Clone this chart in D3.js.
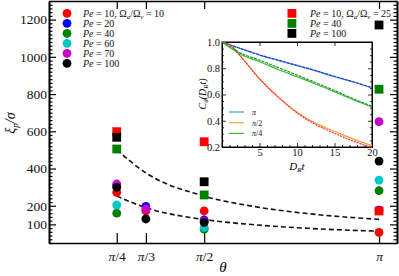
<!DOCTYPE html>
<html>
<head>
<meta charset="utf-8">
<script src="https://d3js.org/d3.v7.min.js"></script>
<style>
body { margin:0; background:#fff; }
.axis path, .axis line { stroke:#000; }
.axis path { stroke-width:1.6px; }
.axis line { stroke-width:1.2px; }
.axis text { font-size:13.5px; fill:#111; }
.inset .axis text { font-size:10.5px; }
.inset .axis path { stroke-width:1px; }
.inset .axis line { stroke-width:0.8px; }
.fit { fill:none; stroke:#111; stroke-width:1.6px; stroke-dasharray:5,3; }
.lg { font-size:10px; fill:#111; }
</style>
</head>
<body>
<script>
// main plot: correlation length vs angle
var thetaVals = [Math.PI/4, Math.PI/3, Math.PI/2, Math.PI];
var thetaLabels = ["/4", "/3", "/2", ""];

// circles, Omega_a/Omega_v = 10 (null = no point)
var circPe10  = [272, 172, 172, 57];
var circPe20  = [310, 197, 124, 177];
var circPe40  = [160, null, 74, 281];
var circPe60  = [204, null, 84, 338];
var circPe70  = [317, 183, 118, 652];
var circPe100 = [299, 129, 111, 440];

// squares, Omega_a/Omega_v = 25
var sqPe10  = [598, null, 544, 172];
var sqPe40  = [505, null, 258, 826];
var sqPe100 = [568, null, 329, 1171];

// dashed guide curves
var fitTheta = [Math.PI/4, Math.PI/3, Math.PI/2, 2.0, 2.5, Math.PI];
var fitUpper = [500, 377, 252, 198, 158, 127];
var fitLower = [252, 190, 126, 99, 79, 63];

var yMajor = [100, 200, 400, 600, 800, 1000, 1200];

// inset: C_theta(D_R t)
var tVals    = [0, 1.25, 2.5, 5, 7.5, 10, 12.5, 15, 17.5, 20];
var cPi      = [1.0, 0.975, 0.95, 0.90, 0.86, 0.82, 0.78, 0.735, 0.695, 0.65];
var cPi2     = [1.0, 0.97, 0.89, 0.72, 0.58, 0.465, 0.38, 0.32, 0.26, 0.21];
var cPi4     = [1.0, 0.95, 0.905, 0.85, 0.79, 0.735, 0.68, 0.62, 0.56, 0.505];
var cPiFit   = [1.0, 0.975, 0.95, 0.902, 0.862, 0.822, 0.782, 0.738, 0.697, 0.652];
var cPi2Fit  = [1.0, 0.97, 0.89, 0.72, 0.58, 0.46, 0.37, 0.305, 0.245, 0.195];
var cPi4Fit  = [1.0, 0.96, 0.915, 0.862, 0.805, 0.748, 0.69, 0.63, 0.568, 0.51];
var insetYTicks = [0.2, 0.4, 0.6, 0.8, 1.0];
var insetXTicks = [5, 10, 15, 20];

var W = 399, H = 276;
var svg = d3.select("body").append("svg").attr("width", W).attr("height", H);
var serif = "'Liberation Serif'";

var x = d3.scaleLinear().domain([0.177, 3.303]).range([49, 397]);
var y = d3.scaleLinear().domain([0, 1300]).range([243, 1]);

// axes, ticks inside
var minorVals = d3.range(0, 1301, 20).filter(function(v){ return yMajor.indexOf(v) < 0; });

svg.append("g").attr("class","axis").attr("transform","translate(49,0)")
   .call(d3.axisLeft(y).tickValues(minorVals).tickSize(-3.5).tickSizeOuter(0).tickFormat(""));
svg.append("g").attr("class","axis").attr("transform","translate(397,0)")
   .call(d3.axisRight(y).tickValues(minorVals).tickSize(-3.5).tickSizeOuter(0).tickFormat(""));
svg.append("g").attr("class","axis").attr("transform","translate(49,0)")
   .call(d3.axisLeft(y).tickValues(yMajor).tickSize(-7).tickSizeOuter(0).tickPadding(2)
   .tickFormat(d3.format("d")));
svg.append("g").attr("class","axis").attr("transform","translate(397,0)")
   .call(d3.axisRight(y).tickValues(yMajor).tickSize(-7).tickSizeOuter(0).tickFormat(""));
svg.append("g").attr("class","axis").attr("transform","translate(0,1)")
   .call(d3.axisTop(x).tickValues(thetaVals).tickSize(-8).tickSizeOuter(0).tickFormat(""));
var xb = svg.append("g").attr("class","axis").attr("transform","translate(0,243)")
   .call(d3.axisBottom(x).tickValues(thetaVals).tickSize(-10).tickSizeOuter(0).tickPadding(8));
xb.selectAll("text").each(function(d, i) {
  var t = d3.select(this).text(null);
  t.append("tspan").attr("font-style","italic").text("π");
  t.append("tspan").text(thetaLabels[i]);
});

// axis titles
svg.append("text").attr("x", 223).attr("y", 272).attr("text-anchor","middle")
   .attr("font-size", 15).attr("font-style","italic").text("θ");
var yl = svg.append("text").attr("transform","translate(15,123) rotate(-90)")
   .attr("text-anchor","middle").attr("font-size", 14).attr("font-style","italic");
yl.append("tspan").text("ξ");
yl.append("tspan").attr("font-size", 9).attr("dy", 3).text("p");
yl.append("tspan").attr("dy", -3).text("/σ");

// dashed curves
var fitLine = d3.line().x(function(d){ return x(d[0]); }).y(function(d){ return y(d[1]); })
  .curve(d3.curveMonotoneX);
svg.append("path").attr("class","fit").attr("d", fitLine(d3.zip(fitTheta, fitUpper)));
svg.append("path").attr("class","fit").attr("d", fitLine(d3.zip(fitTheta, fitLower)));

// markers
var circSeries = [
  {vals: circPe10, col: "#ff0000"},
  {vals: circPe20, col: "#0000ff"},
  {vals: circPe40, col: "#008000"},
  {vals: circPe60, col: "#00c8c8"},
  {vals: circPe70, col: "#c800c8"},
  {vals: circPe100, col: "#000000"}
];
var sqSeries = [
  {vals: sqPe10, col: "#ff0000"},
  {vals: sqPe40, col: "#008000"},
  {vals: sqPe100, col: "#000000"}
];
circSeries.forEach(function(s) {
  svg.append("g").selectAll("circle")
    .data(d3.zip(thetaVals, s.vals).filter(function(d){ return d[1] != null; }))
    .join("circle")
    .attr("cx", function(d){ return x(d[0]); })
    .attr("cy", function(d){ return y(d[1]); })
    .attr("r", 4.4).attr("fill", s.col);
});
sqSeries.forEach(function(s) {
  svg.append("g").selectAll("rect")
    .data(d3.zip(thetaVals, s.vals).filter(function(d){ return d[1] != null; }))
    .join("rect")
    .attr("x", function(d){ return x(d[0]) - 4.4; })
    .attr("y", function(d){ return y(d[1]) - 4.4; })
    .attr("width", 8.8).attr("height", 8.8).attr("fill", s.col);
});

// legends
function peText(g, xx, yy, pe, ratio) {
  var t = g.append("text").attr("class","lg").attr("x", xx).attr("y", yy + 3.5);
  t.append("tspan").attr("font-style","italic").text("Pe");
  t.append("tspan").text(" = " + pe + (ratio ? ", " : ""));
  if (ratio) {
    t.append("tspan").text("Ω");
    t.append("tspan").attr("font-size", 7).attr("font-style","italic").attr("dy", 2).text("a");
    t.append("tspan").attr("dy", -2).text("/Ω");
    t.append("tspan").attr("font-size", 7).attr("font-style","italic").attr("dy", 2).text("v");
    t.append("tspan").attr("dy", -2).text(" = " + ratio);
  }
}
var legC = [["10", "10"], ["20"], ["40"], ["60"], ["70"], ["100"]];
var lg1 = svg.append("g");
legC.forEach(function(l, i) {
  lg1.append("circle").attr("cx", 67).attr("cy", 13.3 + i*10).attr("r", 4.4).attr("fill", circSeries[i].col);
  peText(lg1, 83, 13.3 + i*10, l[0], l[1]);
});
var legS = [["10", "25"], ["40"], ["100"]];
var lg2 = svg.append("g");
legS.forEach(function(l, i) {
  lg2.append("rect").attr("x", 287.5).attr("y", 9 + i*10).attr("width", 8.8).attr("height", 8.8)
     .attr("fill", sqSeries[i].col);
  peText(lg2, 310, 13.3 + i*10, l[0], l[1]);
});

// inset
var ins = svg.append("g").attr("class","inset");
var ix = d3.scaleLinear().domain([0, 20]).range([222, 372]);
var iy = d3.scaleLinear().domain([0.2, 1.0]).range([147, 42]);
ins.append("rect").attr("x", 222).attr("y", 42).attr("width", 150).attr("height", 105)
   .attr("fill", "#fff").attr("stroke", "#000").attr("stroke-width", 1);

var ixMinor = d3.range(1, 20, 1).filter(function(v){ return v % 5 != 0; });
var iyMinor = d3.range(0.25, 1.0, 0.05).filter(function(v){ return Math.abs(v*5 - Math.round(v*5)) > 0.01; });
ins.append("g").attr("class","axis").attr("transform","translate(0,147)")
   .call(d3.axisBottom(ix).tickValues(ixMinor).tickSize(-2).tickSizeOuter(0).tickFormat(""));
ins.append("g").attr("class","axis").attr("transform","translate(0,147)")
   .call(d3.axisBottom(ix).tickValues(insetXTicks).tickSize(-4).tickSizeOuter(0).tickPadding(2));
ins.append("g").attr("class","axis").attr("transform","translate(0,42)")
   .call(d3.axisTop(ix).tickValues(insetXTicks).tickSize(-4).tickSizeOuter(0).tickFormat(""));
ins.append("g").attr("class","axis").attr("transform","translate(222,0)")
   .call(d3.axisLeft(iy).tickValues(iyMinor).tickSize(-2).tickSizeOuter(0).tickFormat(""));
ins.append("g").attr("class","axis").attr("transform","translate(222,0)")
   .call(d3.axisLeft(iy).tickValues(insetYTicks).tickSize(-4).tickSizeOuter(0).tickPadding(2)
   .tickFormat(d3.format(".1f")));
ins.append("g").attr("class","axis").attr("transform","translate(372,0)")
   .call(d3.axisRight(iy).tickValues(iyMinor).tickSize(-2).tickSizeOuter(0).tickFormat(""));
ins.append("g").attr("class","axis").attr("transform","translate(372,0)")
   .call(d3.axisRight(iy).tickValues(insetYTicks).tickSize(-4).tickSizeOuter(0).tickFormat(""));

var iLine = d3.line().x(function(d){ return ix(d[0]); }).y(function(d){ return iy(d[1]); })
  .curve(d3.curveCatmullRom);
var inSeries = [
  {vals: cPi,  col: "#4a90d0", dash: null},
  {vals: cPi2, col: "#ff9a3c", dash: null},
  {vals: cPi4, col: "#3cb83c", dash: null},
  {vals: cPiFit,  col: "#1f3fd8", dash: "3,1"},
  {vals: cPi2Fit, col: "#ff3030", dash: "2,1"},
  {vals: cPi4Fit, col: "#229922", dash: "3,1"}
];
inSeries.forEach(function(s) {
  ins.append("path").attr("d", iLine(d3.zip(tVals, s.vals)))
    .attr("fill","none").attr("stroke", s.col).attr("stroke-width", 1.2)
    .attr("stroke-dasharray", s.dash);
});

var inLeg = [["π", ""], ["π", "/2"], ["π", "/4"]];
inLeg.forEach(function(l, i) {
  var yy = 112 + i*10.7;
  ins.append("line").attr("x1", 229).attr("x2", 244).attr("y1", yy).attr("y2", yy)
     .attr("stroke", inSeries[i].col).attr("stroke-width", 1.2);
  var t = ins.append("text").attr("x", 252).attr("y", yy + 3).attr("font-size", 8).attr("fill","#111");
  t.append("tspan").attr("font-style","italic").text(l[0]);
  t.append("tspan").text(l[1]);
});

var xl = ins.append("text").attr("x", 297).attr("y", 170).attr("text-anchor","middle")
  .attr("font-size", 11).attr("font-style","italic");
xl.append("tspan").text("D");
xl.append("tspan").attr("font-size", 7).attr("dy", 2).text("R");
xl.append("tspan").attr("dy", -2).text("t");
var ylab = ins.append("text").attr("transform","translate(206,94) rotate(-90)")
  .attr("text-anchor","middle").attr("font-size", 10).attr("font-style","italic");
ylab.append("tspan").text("C");
ylab.append("tspan").attr("font-size", 7).attr("dy", 2).text("θ");
ylab.append("tspan").attr("dy", -2).text("(D");
ylab.append("tspan").attr("font-size", 7).attr("dy", 2).text("R");
ylab.append("tspan").attr("dy", -2).text("t)");

// one serif face everywhere (axis groups default to sans-serif)
svg.selectAll("g").attr("font-family", null);
svg.selectAll("text").style("font-family", serif);
</script>
</body>
</html>
